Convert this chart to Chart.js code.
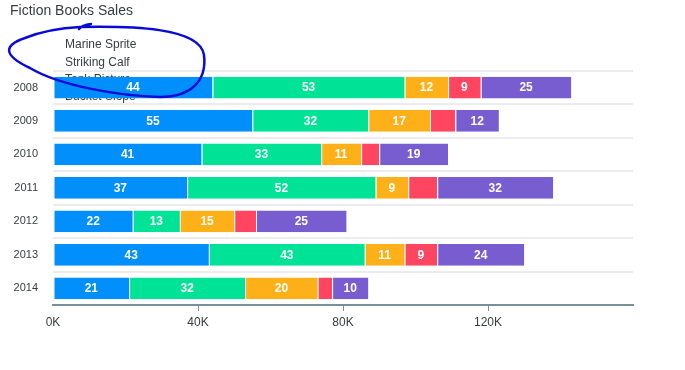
<!DOCTYPE html>
<html>
<head>
<meta charset="utf-8">
<script src="https://cdn.jsdelivr.net/npm/chart.js@4"></script>
<style>
  body { margin: 0; background: #fff; }
  #wrap { width: 685px; height: 370px; }
</style>
</head>
<body>
<div id="wrap"><canvas id="booksChart" width="685" height="370"></canvas></div>
<script>
// datos de la grafica (miles)
const years = ['2008', '2009', '2010', '2011', '2012', '2013', '2014'];
const marineSprite = [44, 55, 41, 37, 22, 43, 21];
const strikingCalf = [53, 32, 33, 52, 13, 43, 32];
const tankPicture = [12, 17, 11, 9, 15, 11, 20];
const bucketSlope = [9, 7, 5, 8, 6, 9, 4];
const rebornKid = [25, 12, 19, 32, 25, 24, 10];
const xMax = 160;
const xStep = 40;

const textColor = '#373d3f';
const axisColor = '#78909c';

// leyenda dibujada detras de las barras, recortada como en la imagen
const legendBehind = {
    id: 'legendBehind',
    beforeDatasetsDraw(chart) {
        const ctx = chart.ctx;
        ctx.save();
        ctx.beginPath();
        ctx.rect(0, 30, 300, 74);
        ctx.clip();
        ctx.font = '12px "Liberation Sans", Arial, sans-serif';
        ctx.fillStyle = textColor;
        ctx.textAlign = 'left';
        ctx.textBaseline = 'middle';
        chart.data.datasets.forEach((ds, i) => {
            ctx.fillText(ds.label, 65, 45 + i * 17.2);
        });
        ctx.restore();
    }
};

// etiquetas blancas dentro de cada segmento
const segmentLabels = {
    id: 'segmentLabels',
    afterDatasetsDraw(chart) {
        const ctx = chart.ctx;
        ctx.save();
        ctx.font = 'bold 12px "Liberation Sans", Arial, sans-serif';
        ctx.fillStyle = '#fff';
        ctx.textAlign = 'center';
        ctx.textBaseline = 'middle';
        chart.data.datasets.forEach((ds, i) => {
            chart.getDatasetMeta(i).data.forEach((bar, j) => {
                const w = Math.abs(bar.x - bar.base);
                if (w < 30) return;
                ctx.fillText(ds.data[j], (bar.x + bar.base) / 2, bar.y + 0.5);
            });
        });
        ctx.restore();
    }
};

// circulo azul hecho a mano encima de la leyenda
const scribble = {
    id: 'scribble',
    afterDraw(chart) {
        const ctx = chart.ctx;
        ctx.save();
        ctx.strokeStyle = '#0a0ad8';
        ctx.lineWidth = 2.5;
        ctx.lineCap = 'round';
        ctx.lineJoin = 'round';
        ctx.beginPath();
        ctx.moveTo(79, 29);
        ctx.quadraticCurveTo(82, 25, 91, 24);
        ctx.moveTo(80, 27);
        ctx.bezierCurveTo(130, 26, 200, 27, 204, 55);
        ctx.bezierCurveTo(207, 80, 192, 97, 160, 97);
        ctx.bezierCurveTo(120, 96, 60, 86, 30, 68);
        ctx.bezierCurveTo(2, 55, 4, 45, 25, 38);
        ctx.bezierCurveTo(40, 32, 60, 28, 80, 27);
        ctx.stroke();
        ctx.restore();
    }
};

const ctxBooks = document.getElementById('booksChart').getContext('2d');

new Chart(ctxBooks, {
    type: 'bar',
    data: {
        labels: years,
        datasets: [
            { label: 'Marine Sprite', data: marineSprite, backgroundColor: '#008FFB' },
            { label: 'Striking Calf', data: strikingCalf, backgroundColor: '#00E396' },
            { label: 'Tank Picture', data: tankPicture, backgroundColor: '#FEB019' },
            { label: 'Bucket Slope', data: bucketSlope, backgroundColor: '#FF4560' },
            { label: 'Reborn Kid', data: rebornKid, backgroundColor: '#775DD0' }
        ].map(ds => Object.assign(ds, {
            borderColor: '#ffffff',
            borderWidth: { left: 1, right: 0, top: 0, bottom: 0 },
            borderSkipped: false,
            barPercentage: 1,
            categoryPercentage: 0.65
        }))
    },
    options: {
        indexAxis: 'y',
        responsive: false,
        animation: false,
        layout: { padding: { left: 10, right: 52, top: 0, bottom: 0 } },
        plugins: {
            legend: { display: false },
            tooltip: { enabled: false },
            title: {
                display: true,
                text: 'Fiction Books Sales',
                align: 'start',
                color: textColor,
                font: { family: '"Liberation Sans", Arial, sans-serif', size: 14, weight: 'normal' },
                padding: { top: 3, bottom: 51 }
            }
        },
        scales: {
            x: {
                stacked: true,
                min: 0,
                max: xMax,
                afterFit: s => { s.height = 65; },
                border: { color: axisColor, width: 2 },
                grid: {
                    drawOnChartArea: false,
                    drawTicks: true,
                    tickLength: 6,
                    color: c => (c.tick && (c.tick.value === 0 || c.tick.value === xMax)) ? 'rgba(0,0,0,0)' : axisColor
                },
                ticks: {
                    stepSize: xStep,
                    padding: 4,
                    color: textColor,
                    font: { family: '"Liberation Sans", Arial, sans-serif', size: 12 },
                    callback: v => v === xMax ? '' : v + 'K'
                }
            },
            y: {
                stacked: true,
                afterFit: s => { s.width = 43; },
                border: { display: false },
                grid: { color: '#ececec', lineWidth: 2, drawTicks: false, offset: true },
                ticks: {
                    padding: 15,
                    color: textColor,
                    font: { family: '"Liberation Sans", Arial, sans-serif', size: 11 }
                }
            }
        }
    },
    plugins: [legendBehind, segmentLabels, scribble]
});
</script>
</body>
</html>
